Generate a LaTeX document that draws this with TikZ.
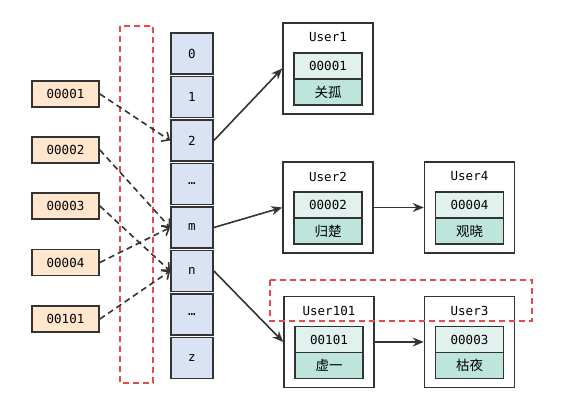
\documentclass[tikz,border=0pt]{standalone}
\usepackage{fontspec}
\setmonofont{DejaVu Sans Mono}
\newfontfamily\cjk{Noto Sans CJK SC}
\usetikzlibrary{arrows.meta}
\definecolor{keyfill}{HTML}{FFE6CC}
\definecolor{bucketfill}{HTML}{DAE3F3}
\definecolor{idfill}{HTML}{E1F2EE}
\definecolor{namefill}{HTML}{BDE5DC}
\definecolor{linecol}{HTML}{333333}
\definecolor{reddash}{HTML}{E84A4A}
\begin{document}
\begin{tikzpicture}[x=1pt,y=-1pt,
  txt/.style={font=\ttfamily\fontsize{12.5}{14}\selectfont},
  keybox/.style={txt, draw=linecol, line width=1.8pt, fill=keyfill, minimum width=67pt, minimum height=26pt, inner sep=0pt},
  bucket/.style={txt, draw=linecol, line width=1.8pt, fill=bucketfill, minimum width=42pt, minimum height=41pt, inner sep=0pt},
  userbox/.style={draw=linecol, line width=1.5pt, fill=white, minimum width=90pt, minimum height=91pt, inner sep=0pt},
  idbox/.style={txt, draw=linecol, line width=1.8pt, fill=idfill, minimum width=68pt, minimum height=26pt, inner sep=0pt},
  namebox/.style={draw=linecol, line width=1.8pt, fill=namefill, minimum width=68pt, minimum height=26pt, inner sep=0pt, font=\cjk\fontsize{13.5}{15}\selectfont},
  title/.style={txt, inner sep=0pt},
  dasharrow/.style={draw=linecol, line width=1.6pt, dash pattern=on 6pt off 4pt, -{Straight Barb[length=6pt,width=11pt]}},
  solidarrow/.style={draw=linecol, line width=1.6pt, -{Stealth[length=11pt,width=9pt]}},
  redbox/.style={draw=reddash, line width=1.6pt, dash pattern=on 6pt off 4pt}
]
\useasboundingbox (0,0) rectangle (563,411);

% red dashed frame
\draw[redbox] (120,26) rectangle (153,383);

% keys
\node[keybox] (k1) at (65.5,94) {00001};
\node[keybox] (k2) at (65.5,150) {00002};
\node[keybox] (k3) at (65.5,206) {00003};
\node[keybox] (k4) at (65.5,262.5) {00004};
\node[keybox] (k5) at (65.5,319) {00101};

% buckets
\node[bucket] (b0) at (192,53.5) {0};
\node[bucket] (b1) at (192,97) {1};
\node[bucket] (b2) at (192,140.5) {2};
\node[bucket] (b3) at (192,184) {…};
\node[bucket] (b4) at (192,227.5) {m};
\node[bucket] (b5) at (192,271) {n};
\node[bucket] (b6) at (192,314.5) {…};
\node[bucket] (b7) at (192,358) {z};

% users
\newcommand{\userentry}[5]{%
  \node[userbox] (#1) at (#2) {};
  \node[title] (#1t) at ([yshift=31pt]#1.center) {#3};
  \node[idbox] (#1i) at ([yshift=2.5pt]#1.center) {#4};
  \node[namebox] (#1n) at ([yshift=-23.5pt]#1.center) {#5};
}
\userentry{u1}{328,68.5}{User1}{00001}{关孤}
\userentry{u2}{328,207.5}{User2}{00002}{归楚}
\userentry{u4}{469.5,207.5}{User4}{00004}{观晓}
\userentry{u101}{329,342}{User101}{00101}{虚一}
\userentry{u3}{469.5,342}{User3}{00003}{枯夜}

\draw[redbox] (270,280) rectangle (532,321);

% dashed arrows
\draw[dasharrow] (k1.east) -- (b2.west);
\draw[dasharrow] (k2.east) -- (b4.west);
\draw[dasharrow] (k3.east) -- (b5.west);
\draw[dasharrow] (k4.east) -- (b4.west);
\draw[dasharrow] (k5.east) -- (b5.west);

% solid arrows
\draw[solidarrow] (b2.east) -- (u1.west);
\draw[solidarrow] (b4.east) -- (u2.west);
\draw[solidarrow] (b5.east) -- (u101.west);
\draw[solidarrow] (u2.east) -- (u4.west);
\draw[solidarrow] (u101.east) -- (u3.west);
\end{tikzpicture}
\end{document}
